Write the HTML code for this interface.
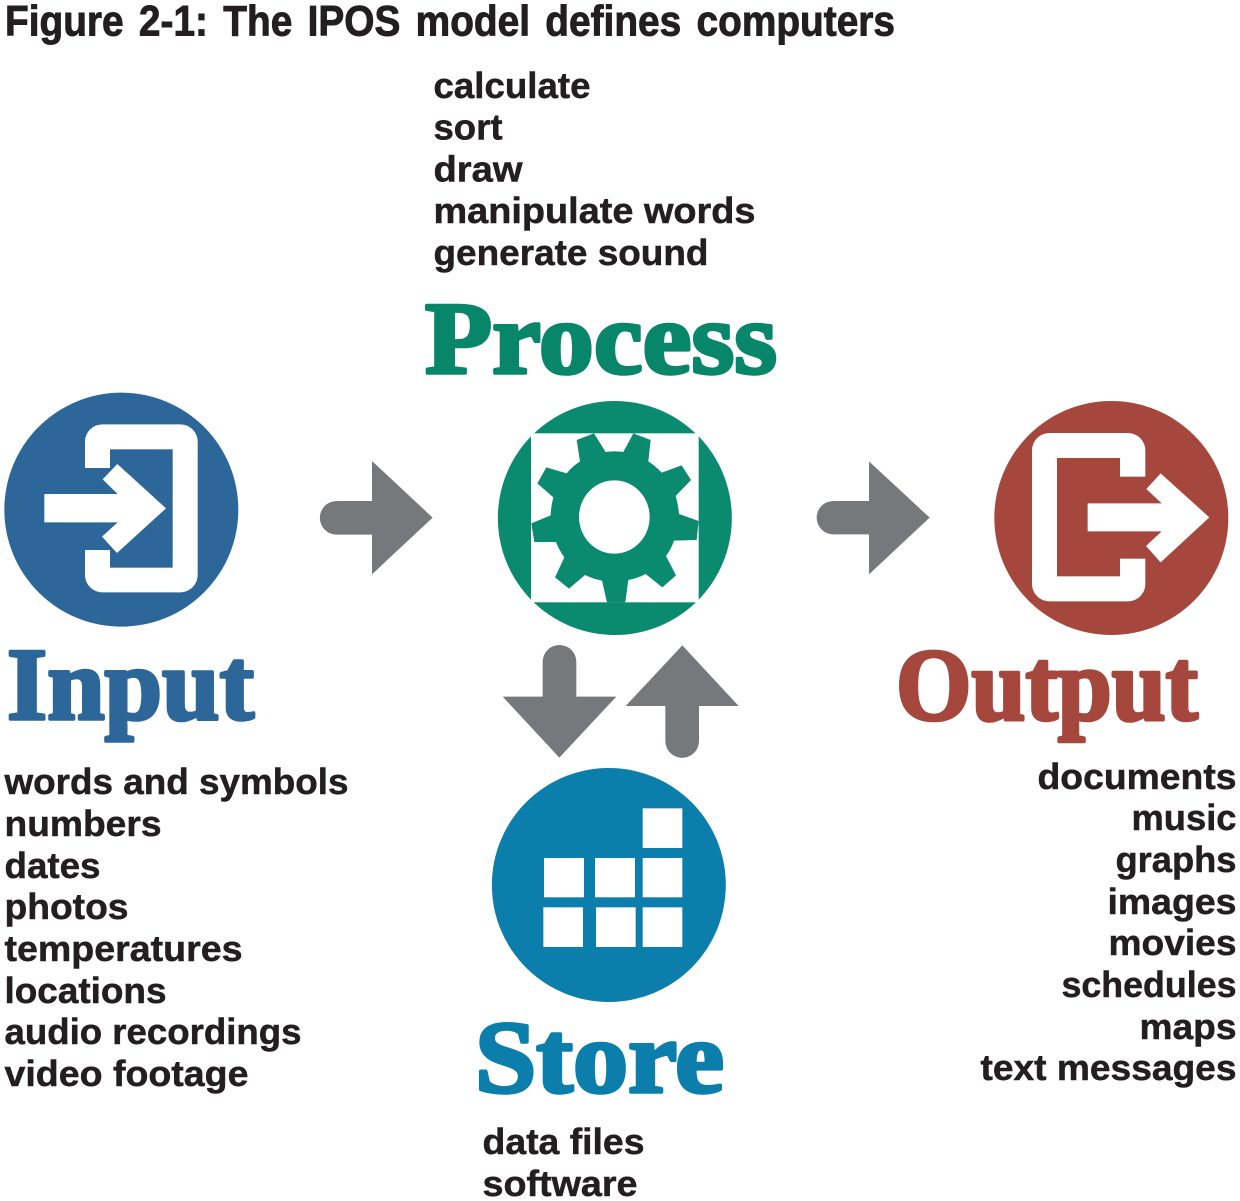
<!DOCTYPE html>
<html><head><meta charset="utf-8"><style>
html,body{margin:0;padding:0;background:#fff}
svg{display:block}
.b{font-family:"Liberation Sans",sans-serif;font-weight:700;font-size:36.5px;fill:#231f20;stroke:#231f20;stroke-width:.5px}
.h{font-family:"Liberation Serif",serif;font-weight:700;font-size:103px;stroke-width:3.6px;stroke-linejoin:round}
</style></head><body>
<svg width="1240" height="1201" viewBox="0 0 1240 1201" xmlns="http://www.w3.org/2000/svg">
<rect width="1240" height="1201" fill="#fff"/>
<text x="5" y="35.500" font-family="Liberation Sans, sans-serif" font-weight="700" font-size="43" fill="#231f20" stroke="#231f20" stroke-width=".9" word-spacing="5" textLength="890" lengthAdjust="spacingAndGlyphs">Figure 2-1: The IPOS model defines computers</text>

<g>
<text class="b" x="433.500" y="98" textLength="157" lengthAdjust="spacingAndGlyphs">calculate</text>
<text class="b" x="433.500" y="139.500" textLength="69" lengthAdjust="spacingAndGlyphs">sort</text>
<text class="b" x="433.500" y="181.500" textLength="89" lengthAdjust="spacingAndGlyphs">draw</text>
<text class="b" x="433.500" y="223" textLength="322" lengthAdjust="spacingAndGlyphs">manipulate words</text>
<text class="b" x="433.500" y="265" textLength="275" lengthAdjust="spacingAndGlyphs">generate sound</text>

<text class="b" x="4.500" y="794" textLength="344" lengthAdjust="spacingAndGlyphs">words and symbols</text>
<text class="b" x="4.500" y="836" textLength="157" lengthAdjust="spacingAndGlyphs">numbers</text>
<text class="b" x="4.500" y="878" textLength="96" lengthAdjust="spacingAndGlyphs">dates</text>
<text class="b" x="4.500" y="919" textLength="124" lengthAdjust="spacingAndGlyphs">photos</text>
<text class="b" x="4.500" y="961" textLength="238" lengthAdjust="spacingAndGlyphs">temperatures</text>
<text class="b" x="4.500" y="1003" textLength="162" lengthAdjust="spacingAndGlyphs">locations</text>
<text class="b" x="4.500" y="1044" textLength="297" lengthAdjust="spacingAndGlyphs">audio recordings</text>
<text class="b" x="4.500" y="1086" textLength="244" lengthAdjust="spacingAndGlyphs">video footage</text>

<text class="b" x="1037.500" y="789" textLength="199" lengthAdjust="spacingAndGlyphs">documents</text>
<text class="b" x="1131.500" y="830" textLength="105" lengthAdjust="spacingAndGlyphs">music</text>
<text class="b" x="1115.500" y="872" textLength="121" lengthAdjust="spacingAndGlyphs">graphs</text>
<text class="b" x="1107.500" y="914" textLength="129" lengthAdjust="spacingAndGlyphs">images</text>
<text class="b" x="1108.500" y="955" textLength="128" lengthAdjust="spacingAndGlyphs">movies</text>
<text class="b" x="1061.500" y="997" textLength="175" lengthAdjust="spacingAndGlyphs">schedules</text>
<text class="b" x="1139.500" y="1039" textLength="97" lengthAdjust="spacingAndGlyphs">maps</text>
<text class="b" x="980.500" y="1080" textLength="256" lengthAdjust="spacingAndGlyphs">text messages</text>

<text class="b" x="482.500" y="1154" textLength="162" lengthAdjust="spacingAndGlyphs">data files</text>
<text class="b" x="482.500" y="1196" textLength="155" lengthAdjust="spacingAndGlyphs">software</text>
</g>

<text class="h" x="425" y="373" fill="#07866a" stroke="#07866a" textLength="352" lengthAdjust="spacingAndGlyphs">Process</text>
<text class="h" x="7" y="719" fill="#2d6699" stroke="#2d6699" textLength="247" lengthAdjust="spacingAndGlyphs">Input</text>
<text class="h" x="896" y="719.500" fill="#a5473d" stroke="#a5473d" textLength="302" lengthAdjust="spacingAndGlyphs">Output</text>
<text class="h" x="475" y="1092" fill="#0b7eab" stroke="#0b7eab" textLength="249" lengthAdjust="spacingAndGlyphs">Store</text>

<!-- Input -->
<g transform="translate(0,380) scale(.33333)">
<circle cx="364" cy="389" r="351" fill="#2d6699"/>
<rect x="255" y="133" width="338" height="504" rx="52" fill="#fff"/>
<rect x="330" y="208" width="188" height="355" fill="#2d6699"/>
<rect x="250" y="264" width="80" height="246" fill="#2d6699"/>
<path d="M133,342H353L308,298L352,252L498,385L351,519L306,470L353,427H133Z" fill="#fff"/>
<path d="M1116,363H1010a50.500,50.500 0 0 0 0,101H1116V583L1298,413L1116,243Z" fill="#77787b"/>
</g>

<!-- Process -->
<g transform="translate(480,390) scale(.33333)">
<circle cx="404.500" cy="384" r="351" fill="#0a8a6e"/>
<rect x="153" y="130" width="503" height="507" fill="#fff"/>
<path fill-rule="evenodd" fill="#0a8a6e" d="M342,130L377,186Q403,182 430,186L460,130L512,150L505,214Q527,228 545,248L605,226L633,270L587,318Q595,345 597,372L656,393L650,450L582,452Q574,477 558,498L588,556L547,592L497,552Q473,565 445,570L436,637H381L366,572Q340,567 315,555L267,596L225,562L253,502Q237,480 228,456L163,456L154,400L212,376Q213,348 220,322L172,280L199,232L260,250Q277,229 300,214L290,150Z M509,381a106,110 0 1 0 -212,0a106,110 0 1 0 212,0Z"/>
<path d="M188,920V815.500a50.500,50.500 0 0 1 101,0V920H409L238,1103L68,920Z" fill="#77787b"/>
<path d="M556,948V1053a50.500,50.500 0 0 0 101,0V948H776L607,766L437,948Z" fill="#77787b"/>
</g>

<!-- Output -->
<g transform="translate(800,390) scale(.33333)">
<circle cx="934" cy="384" r="351" fill="#a5473d"/>
<rect x="696" y="129" width="340" height="505" rx="52" fill="#fff"/>
<rect x="771" y="204" width="189" height="355" fill="#a5473d"/>
<rect x="960" y="260" width="80" height="246" fill="#a5473d"/>
<path d="M863,340H1085L1039,297L1082,250L1228,382L1082,517L1038,468L1085,424H863Z" fill="#fff"/>
<path d="M207,333H100a50,50 0 0 0 0,100H207V553L389,383L207,214Z" fill="#77787b"/>
</g>

<!-- Store -->
<g transform="translate(470,760) scale(.33333)">
<circle cx="416.500" cy="375" r="351" fill="#0b7eab"/>
<g fill="#fff">
<rect x="518" y="145" width="119" height="119"/>
<rect x="222" y="294" width="120" height="118"/>
<rect x="375" y="294" width="120" height="118"/>
<rect x="518" y="294" width="119" height="118"/>
<rect x="220" y="442" width="119" height="119"/>
<rect x="378" y="442" width="119" height="119"/>
<rect x="518" y="442" width="119" height="119"/>
</g>
</g>
</svg>
</body></html>
